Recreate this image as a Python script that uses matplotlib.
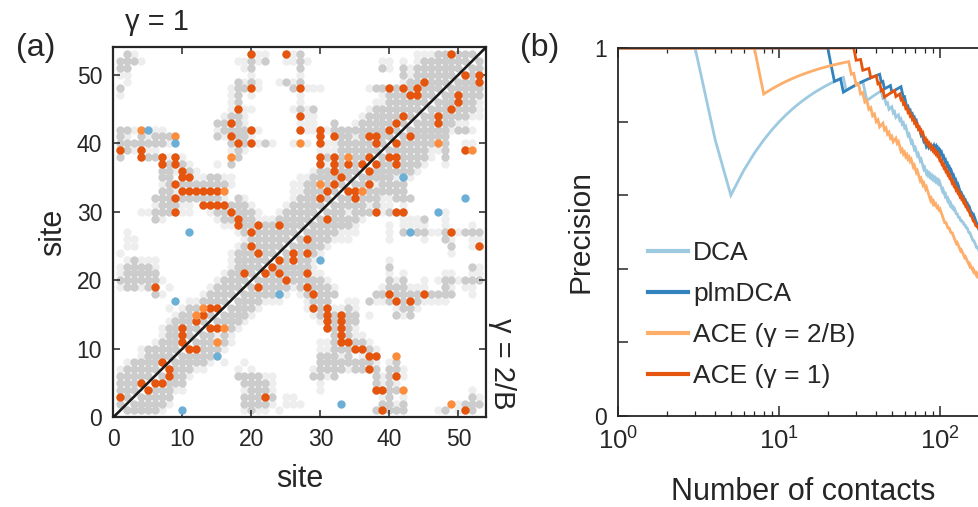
import numpy as np
import matplotlib
matplotlib.use('Agg')
import matplotlib.pyplot as plt
from matplotlib.lines import Line2D
from matplotlib.ticker import FixedLocator, NullFormatter, LogLocator

plt.rcParams['font.family'] = ['Liberation Sans', 'DejaVu Sans']
plt.rcParams['mathtext.fontset'] = 'custom'
plt.rcParams['mathtext.rm'] = 'Liberation Sans'

# ---- (a) contact map, upper triangle (i < j), row j -> columns i ----
dark_rows = {
    53: [2, 27, 47, 48, 50, 51, 52],
    52: [1, 2, 3, 20, 22, 27, 45, 46, 47, 48, 49, 50, 51],
    51: [1, 2, 20, 27, 39, 42, 44, 45, 46, 47, 48, 49, 50],
    50: [42, 44, 45, 46, 47, 48, 49],
    49: [18, 20, 25, 27, 43, 44, 46, 47, 48],
    48: [1, 18, 19, 26, 38, 39, 41, 43, 45, 46, 47],
    47: [18, 40, 41, 42, 45, 46],
    46: [18, 40, 41, 42, 43, 44, 45],
    45: [27, 29, 38, 39, 40, 41, 42, 43, 44],
    44: [17, 18, 37, 38, 39, 40, 41, 43],
    43: [15, 16, 18, 32, 36, 37, 38, 39, 40, 42],
    42: [1, 2, 16, 17, 18, 19, 32, 33, 34, 35, 36, 37, 38, 39, 41],
    41: [1, 4, 6, 7, 8, 15, 18, 19, 33, 34, 36, 39, 40],
    40: [1, 2, 3, 4, 5, 6, 7, 17, 19, 22, 33, 34, 35, 36, 37, 39],
    39: [2, 18, 33, 34, 35, 36, 37, 38],
    38: [1, 5, 6, 18, 31, 33, 35, 36],
    37: [8, 10, 17, 33, 35, 36],
    36: [7, 8, 11, 30, 31, 33, 34, 35],
    35: [7, 8, 14, 15, 29, 30, 31, 32, 34],
    34: [8, 10, 11, 12, 13, 14, 15, 16, 28, 29, 31, 33],
    33: [7, 8, 28, 29, 30, 32],
    32: [6, 7, 8, 10, 11, 12, 13, 14, 15, 18, 27, 28, 29, 31],
    31: [7, 8, 9, 17, 18, 19, 26, 27, 28, 29, 30],
    30: [6, 7, 8, 15, 16, 18, 19, 20, 25, 26, 27, 28, 29],
    29: [6, 16, 17, 19, 20, 24, 25, 26, 27, 28],
    28: [19, 20, 22, 23, 25, 26, 27],
    27: [19, 21, 22, 23, 24, 25, 26],
    26: [20, 21, 22, 23, 24, 25],
    25: [19, 21, 22, 23, 24],
    24: [18, 19, 20, 22, 23],
    23: [3, 18, 19, 20, 21, 22],
    22: [2, 3, 4, 5, 18, 19, 20, 21],
    21: [2, 3, 4, 5, 6, 17, 18, 20],
    20: [1, 2, 3, 4, 5, 6, 16, 17, 18, 19],
    19: [2, 3, 5, 15, 16, 17, 18],
    18: [6, 14, 15, 16, 17],
    17: [13, 14, 15, 16],
    16: [11, 12, 15],
    15: [10, 11, 14],
    14: [9, 10, 11, 13],
    13: [8, 9, 11, 12],
    12: [8, 9, 11],
    11: [7, 8, 9, 10],
    10: [5, 6, 7, 8, 9],
    9: [5, 6, 7, 8],
    8: [3, 4, 5, 6],
    7: [2, 3, 4, 5, 6],
    6: [1, 2, 3, 4, 5],
    5: [1, 2, 3],
    4: [1, 2, 3],
    3: [2],
    2: [1],
}
light_rows = {
    53: [3, 21, 22, 26, 44, 45, 46],
    52: [4, 18, 19, 21, 25, 26, 28, 39, 40, 42, 44],
    51: [19, 40, 43],
    50: [1, 2, 20, 27, 43],
    49: [2, 19, 21, 24, 26, 42],
    48: [17, 21, 28, 29, 30, 37],
    47: [1, 17, 20, 27, 39],
    46: [17, 27, 38, 39],
    45: [17, 19, 20, 26, 28, 37],
    44: [16, 19, 28, 29, 36],
    43: [19, 27, 28, 29, 35],
    42: [3, 6, 7, 15, 21, 28, 29, 31],
    41: [2, 5, 16, 20, 35],
    40: [8, 21, 23, 26, 28, 31, 32],
    39: [3, 5, 6, 17, 19, 30, 31, 32],
    38: [8, 10],
    37: [11, 15, 31],
    36: [9, 12, 29],
    35: [12, 13, 16, 17, 27, 28],
    34: [7, 17, 26, 27],
    33: [9, 26, 27],
    32: [16, 19, 26],
    31: [6, 10, 11, 20, 25],
    30: [4, 5, 10, 11, 14, 21, 24],
    29: [7, 15, 21, 22, 23],
    28: [16, 17],
    27: [2, 18],
    26: [2, 3, 19],
    25: [2, 3, 18],
    24: [1, 17],
    23: [2, 4, 5, 6, 17],
    22: [1, 6, 17],
    21: [1, 16],
    20: [7, 15],
    19: [1, 4, 8, 14],
    18: [7, 13],
    17: [11, 12],
    16: [8, 10],
    15: [9],
    14: [8],
    13: [7],
    12: [7],
    11: [6],
    10: [4],
    9: [4],
    8: [2],
    7: [1],
}

# predicted contacts (x = column, y = row); upper triangle: gamma = 1
red_upper = [(20, 53), (25, 53), (49, 53), (20, 48), (27, 48), (40, 48), (42, 48), (44, 48),
             (43, 47), (44, 47), (45, 49), (18, 45), (27, 44), (42, 44), (17, 43), (41, 43),
             (20, 42), (27, 42), (30, 42), (40, 42), (17, 41), (30, 41), (32, 41), (37, 41),
             (38, 41), (18, 40), (20, 40), (30, 40), (38, 40), (1, 39), (4, 39), (4, 38),
             (7, 38), (9, 38), (30, 38), (32, 38), (37, 38), (7, 37), (9, 37), (30, 37),
             (32, 37), (34, 37), (36, 37), (10, 36), (32, 36), (10, 35), (11, 35), (33, 35),
             (9, 34), (32, 34), (10, 33), (11, 33), (12, 33), (13, 33), (14, 33), (15, 33),
             (31, 33), (9, 32), (30, 32), (13, 31), (14, 31), (15, 31), (16, 31), (9, 30),
             (17, 30), (18, 29), (18, 28), (21, 28), (24, 28), (20, 27), (20, 25), (21, 24),
             (19, 21), (6, 19), (14, 16), (15, 16), (13, 15), (12, 14), (10, 13), (10, 12),
             (10, 11), (7, 8), (4, 5), (1, 3)]
orange_upper = [(4, 42), (9, 41), (27, 40), (17, 38), (34, 38), (16, 33), (30, 34), (13, 16),
                (12, 15)]
blue_upper = [(5, 42), (9, 40), (11, 27), (9, 17)]

# lower triangle: gamma = 2/B
red_lower = [(51, 50), (53, 50), (53, 49), (50, 47), (50, 46), (49, 45), (47, 44), (47, 43),
             (43, 41), (41, 40), (40, 38), (41, 38), (38, 37), (41, 37), (37, 36), (51, 39),
             (34, 33), (35, 33), (35, 32), (37, 34), (38, 30), (41, 30), (42, 30), (31, 29),
             (49, 27), (53, 25), (28, 26), (28, 24), (26, 24), (24, 23), (26, 23), (23, 22),
             (22, 21), (24, 21), (28, 21), (25, 20), (21, 19), (28, 19), (29, 18), (40, 18),
             (45, 18), (41, 17), (43, 17), (29, 16), (31, 16), (31, 15), (31, 14), (31, 13),
             (33, 15), (33, 14), (33, 13), (33, 12), (33, 11), (34, 11), (35, 10), (36, 10),
             (37, 9), (38, 9), (37, 7), (41, 6), (38, 4), (39, 4), (39, 1), (51, 1), (22, 3),
             (14, 13), (15, 13), (11, 10), (12, 10), (8, 7), (8, 6), (6, 5), (7, 5), (5, 4)]
orange_lower = [(47, 40), (52, 39), (36, 33), (41, 9), (42, 4), (49, 2), (16, 13), (15, 11)]
blue_lower = [(42, 35), (51, 32), (47, 30), (43, 27), (30, 23), (24, 18), (15, 9), (33, 2),
              (10, 1)]

# ---- (b) ranks of false predictions in each ranked list ----
n_pred = 180
miss_dca = [4, 5, 26, 34, 35, 44, 46, 48, 51, 53, 56, 58, 60, 62, 63, 65, 66, 68, 69, 71, 72,
            74, 75, 77, 78, 79, 81, 82, 84, 86, 88, 90, 92, 94, 96, 98, 100, 101, 102, 103,
            105, 106, 107, 109, 110, 111, 113, 114, 115, 117, 118, 119, 121, 122, 124, 125,
            126, 128, 129, 130, 132, 133, 134, 136, 137, 139, 140, 141, 143, 144, 145, 147,
            148, 149, 150, 151, 153, 154, 155, 156, 157, 158, 159, 160, 162, 163, 164, 165,
            166, 167, 168, 169, 171, 172, 173, 174]
miss_plm = [21, 22, 25, 43, 45, 50, 58, 59, 61, 62, 64, 66, 68, 70, 72, 73, 75, 76, 78, 79,
            81, 82, 85, 88, 92, 95, 97, 99, 101, 103, 104, 106, 107, 109, 110, 112, 113, 115,
            116, 118, 119, 120, 122, 123, 124, 126, 127, 128, 130, 131, 132, 133, 134, 135,
            137, 138, 139, 141, 142, 143, 145, 146, 147, 149, 150, 151, 153, 154, 155, 156,
            158, 159, 160, 161, 163, 164, 165, 166, 167, 168, 169, 170, 171, 172, 173, 174]
miss_ace_2b = [8, 28, 30, 32, 34, 36, 38, 40, 42, 45, 47, 49, 51, 54, 56, 57, 59, 61, 63, 65,
               67, 68, 70, 71, 73, 74, 75, 77, 78, 80, 81, 83, 84, 85, 86, 87, 89, 90, 92, 93,
               95, 96, 98, 99, 101, 102, 103, 104, 105, 106, 107, 109, 110, 111, 112, 114,
               115, 116, 117, 119, 120, 121, 122, 123, 124, 125, 126, 127, 129, 130, 131, 132,
               133, 134, 135, 137, 138, 139, 140, 141, 142, 143, 145, 146, 147, 148, 149, 150,
               151, 152, 154, 155, 156, 157, 158, 159, 160, 162, 163, 164, 165, 166, 167, 169,
               170, 171, 173]
miss_ace_1 = [30, 33, 37, 41, 43, 45, 53, 57, 59, 61, 63, 65, 67, 69, 71, 73, 75, 77, 79, 80,
              82, 84, 86, 88, 90, 92, 94, 96, 98, 99, 101, 102, 104, 105, 107, 108, 110, 111,
              113, 114, 116, 117, 118, 120, 121, 123, 124, 125, 127, 128, 130, 131, 132, 134,
              135, 137, 138, 139, 141, 142, 143, 145, 146, 147, 148, 149, 151, 152, 153, 154,
              155, 157, 158, 159, 160, 161, 163, 164, 165, 166, 167, 169, 170, 172, 173]

methods = ['DCA', 'plmDCA', 'ACE (γ = 2/B)', 'ACE (γ = 1)']
method_misses = [miss_dca, miss_plm, miss_ace_2b, miss_ace_1]
method_colors = ['#9ecae1', '#3182bd', '#fdae6b', '#e6550d']

GREY_D, GREY_L = '#cccccc', '#eeeeee'
C_RED, C_ORANGE, C_BLUE = '#e6550d', '#fd8d3c', '#6baed6'
INK = '#262626'

W, H = 979, 507
fig = plt.figure(figsize=(W / 100, H / 100), dpi=100)


def box(left, top, right, bottom):
    return [left / W, 1 - bottom / H, (right - left) / W, (bottom - top) / H]


# ------------------------- panel (a) -------------------------
ax = fig.add_axes(box(113.3, 47.3, 486, 417.3))

dark = set()
for j, cols in dark_rows.items():
    for i in cols:
        dark.add((i, j))
light = set()
for j, cols in light_rows.items():
    for i in cols:
        light.add((i, j))
# correctly predicted pairs are contacts too -> grey on both sides
for (x, y) in red_upper + red_lower:
    dark.add((min(x, y), max(x, y)))
for (x, y) in orange_upper + orange_lower:
    light.add((min(x, y), max(x, y)))
light -= dark

dot = 36
for pairs, col in [(light, GREY_L), (dark, GREY_D)]:
    xs = [p[0] for p in pairs] + [p[1] for p in pairs]
    ys = [p[1] for p in pairs] + [p[0] for p in pairs]
    ax.scatter(xs, ys, s=dot, c=col, linewidths=0, zorder=1)

for pts, col in [(red_upper + red_lower, C_RED), (orange_upper + orange_lower, C_ORANGE),
                 (blue_upper + blue_lower, C_BLUE)]:
    ax.scatter([p[0] for p in pts], [p[1] for p in pts], s=dot, c=col, linewidths=0, zorder=2)

ax.plot([0, 54], [0, 54], color='#1a1a1a', lw=1.9, zorder=3)
ax.set_xlim(0, 54)
ax.set_ylim(0, 54)
ax.set_xticks(range(0, 51, 10))
ax.set_yticks(range(0, 51, 10))
ax.tick_params(direction='in', length=5, width=1.1, top=True, right=True,
               labelsize=16.5, pad=8, color=INK, labelcolor=INK)
for s in ax.spines.values():
    s.set_linewidth(1.6)
    s.set_color(INK)
ax.set_xlabel('site', fontsize=22, color=INK, labelpad=9)
ax.set_ylabel('site', fontsize=22, color=INK, labelpad=6)

fig.text(157 / W, 1 - 22 / H, 'γ = 1', fontsize=21, ha='center', va='center', color=INK)
fig.text(502 / W, 1 - 364 / H, 'γ = 2/B', fontsize=21, ha='center', va='center',
         rotation=-90, color=INK)
fig.text(36 / W, 1 - 48 / H, '(a)', fontsize=23, ha='center', va='center', color=INK)
fig.text(540 / W, 1 - 48 / H, '(b)', fontsize=23, ha='center', va='center', color=INK)

# ------------------------- panel (b) -------------------------
xmax = 300
axb = fig.add_axes(box(618.3, 48, 618.3 + np.log10(xmax) * 161, 416))
ks = np.arange(1, n_pred + 1)
handles = []
for name, misses, col in zip(methods, method_misses, method_colors):
    hits = np.ones(n_pred)
    hits[np.array(misses) - 1] = 0
    prec = np.cumsum(hits) / ks
    axb.plot(ks, prec, color=col, lw=2.0, solid_joinstyle='miter')
    handles.append(Line2D([], [], color=col, lw=3.0))

axb.set_xscale('log')
axb.set_xlim(1, xmax)
axb.set_ylim(0, 1)
axb.yaxis.set_major_locator(FixedLocator([0, 0.2, 0.4, 0.6, 0.8, 1.0]))
axb.set_yticklabels(['0', '', '', '', '', '1'])
axb.xaxis.set_major_locator(LogLocator(base=10))
axb.xaxis.set_minor_locator(LogLocator(base=10, subs=np.arange(2, 10)))
axb.xaxis.set_minor_formatter(NullFormatter())
axb.tick_params(which='major', direction='in', length=7, width=1.1, top=True, right=True,
                color=INK, labelcolor=INK)
axb.tick_params(which='minor', direction='in', length=3.5, width=0.9, top=True, right=True,
                color=INK)
axb.tick_params(axis='x', labelsize=18.5, pad=8)
axb.tick_params(axis='y', labelsize=16.5, pad=8)
for s in axb.spines.values():
    s.set_linewidth(1.3)
    s.set_color(INK)
axb.set_ylabel('Precision', fontsize=21.5, color=INK, labelpad=0)
fig.text(803 / W, 1 - 492 / H, 'Number of contacts', fontsize=22, ha='center', va='center',
         color=INK)

axb.legend(handles, methods, loc='upper left', bbox_to_anchor=(0.0745, 0.475), frameon=False,
           fontsize=19, handlelength=1.5, handletextpad=0.2, labelspacing=0.64, borderpad=0,
           borderaxespad=0, labelcolor=INK)

fig.savefig('out.png', dpi=100)
